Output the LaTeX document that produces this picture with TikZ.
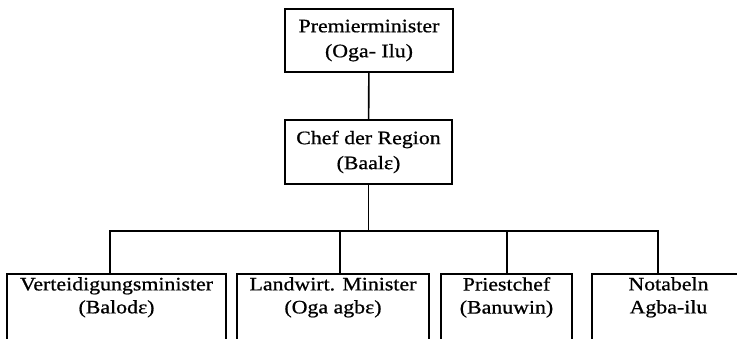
\documentclass[tikz,border=0pt]{standalone}
\usepackage{fontspec}
\setmainfont{Liberation Serif}[FakeStretch=1.15, FakeBold=0.8]
\usetikzlibrary{positioning}

\tikzset{
  chief/.style={draw, line width=1.6pt, align=center, font=\fontsize{19}{25}\selectfont},
  office/.style={draw, line width=1.6pt, minimum height=72, anchor=north},
  otext/.style={anchor=north, inner sep=4pt, align=center, font=\fontsize{19}{23}\selectfont},
  link/.style={line width=1.6pt}
}

\begin{document}
\begin{tikzpicture}[x=1pt, y=-1pt]
  \clip (0,0) rectangle (737,339);

  % Spitze
  \node[chief, minimum width=168, minimum height=63] (prem) at (369,40.5) {Premierminister\\(Oga- Ilu)};
  \node[chief, minimum width=167, minimum height=64] (chef) at (368.5,152) {Chef der Region\\(Baalε)};

  % untere Reihe
  \node[office, minimum width=219, label={[otext]90:Verteidigungsminister\\(Balodε)}] (vert) at (116.5,273) {};
  \node[office, minimum width=192, label={[otext]90:Landwirt. Minister\\(Oga agbε)}] (land) at (333,273) {};
  \node[office, minimum width=131, label={[otext]90:Priestchef\\(Banuwin)}] (pries) at (506.5,273) {};
  \node[office, minimum width=153, label={[otext]90:Notabeln\\Agba-ilu}] (nota) at (668.5,273) {};

  \draw[link] (prem) -- (chef);
  \draw[link] (chef.south) -- ++(0,46) coordinate (bus);
  \draw[link] ([xshift=-6.5]vert.north) |- ([xshift=-10.5]nota.north |- bus) -- ([xshift=-10.5]nota.north);
  \draw[link] ([xshift=7]land.north) -- ([xshift=7]land.north |- bus);
  \draw[link] ([xshift=0.5]pries.north) -- ([xshift=0.5]pries.north |- bus);
\end{tikzpicture}
\end{document}
